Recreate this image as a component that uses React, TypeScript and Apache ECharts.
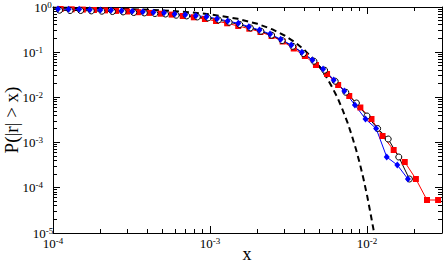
import React, { useEffect, useRef } from "react";
import * as echarts from "echarts";

// Red squares series
const redX = [
  1.118e-4, 1.315e-4, 1.548e-4, 1.822e-4, 2.144e-4, 2.523e-4, 2.969e-4, 3.494e-4, 4.111e-4,
  4.838e-4, 5.694e-4, 6.7e-4, 7.885e-4, 9.279e-4, 1.092e-3, 1.285e-3, 1.512e-3, 1.779e-3,
  2.094e-3, 2.464e-3, 2.9e-3, 3.412e-3, 4.016e-3, 4.726e-3, 5.561e-3, 6.544e-3, 7.701e-3,
  9.063e-3, 1.067e-2, 1.255e-2, 1.477e-2, 1.738e-2, 2.046e-2, 2.407e-2, 2.833e-2,
];
const redY = [
  0.903, 0.889, 0.876, 0.858, 0.841, 0.82, 0.795, 0.767, 0.74, 0.711, 0.679, 0.632, 0.592,
  0.543, 0.49, 0.436, 0.38, 0.331, 0.28, 0.228, 0.1725, 0.1207, 0.0824, 0.0521, 0.0329,
  0.0188, 0.01074, 5.98e-3, 3.33e-3, 1.4e-3, 6.86e-4, 3.72e-4, 1.565e-4, 5.37e-5, 5.37e-5,
];

// Blue diamonds series
const blueX = [
  1.076e-4, 1.257e-4, 1.468e-4, 1.715e-4, 2.003e-4, 2.34e-4, 2.734e-4, 3.194e-4, 3.733e-4,
  4.359e-4, 5.093e-4, 5.951e-4, 6.951e-4, 8.12e-4, 9.487e-4, 1.108e-3, 1.295e-3, 1.513e-3,
  1.767e-3, 2.064e-3, 2.412e-3, 2.818e-3, 3.292e-3, 3.845e-3, 4.492e-3, 5.248e-3, 6.131e-3,
  7.162e-3, 8.367e-3, 9.772e-3, 1.142e-2, 1.334e-2, 1.558e-2, 1.82e-2,
];
const blueY = [
  0.903, 0.889, 0.889, 0.872, 0.858, 0.845, 0.828, 0.803, 0.787, 0.763, 0.744, 0.7, 0.675,
  0.642, 0.61, 0.551, 0.49, 0.436, 0.367, 0.31, 0.253, 0.193, 0.144, 0.0995, 0.0672, 0.0425,
  0.0243, 0.01385, 6.79e-3, 3.33e-3, 2.05e-3, 4.8e-4, 3.19e-4, 1.565e-4,
];

// Black open circles series
const blackX = [
  1.1e-4, 1.285e-4, 1.5e-4, 1.753e-4, 2.047e-4, 2.391e-4, 2.794e-4, 3.264e-4, 3.815e-4,
  4.455e-4, 5.205e-4, 6.082e-4, 7.104e-4, 8.299e-4, 9.696e-4, 1.132e-3, 1.323e-3, 1.546e-3,
  1.806e-3, 2.109e-3, 2.465e-3, 2.88e-3, 3.364e-3, 3.93e-3, 4.591e-3, 5.363e-3, 6.266e-3,
  7.32e-3, 8.551e-3, 9.987e-3, 1.167e-2, 1.363e-2, 1.592e-2, 1.86e-2,
];
const blackY = [
  0.849, 0.836, 0.836, 0.82, 0.807, 0.794, 0.778, 0.755, 0.74, 0.717, 0.699, 0.658, 0.635,
  0.603, 0.573, 0.518, 0.461, 0.41, 0.345, 0.291, 0.238, 0.181, 0.135, 0.0935, 0.0632, 0.04,
  0.0228, 0.013, 7.52e-3, 3.88e-3, 2.05e-3, 1.2e-3, 4.8e-4, 1.565e-4,
];

// Dashed reference curve
const dashX = [
  1e-4, 2e-4, 3e-4, 5e-4, 7e-4, 1e-3, 1.5e-3, 2e-3, 2.5e-3, 3e-3, 3.5e-3, 4e-3, 4.5e-3, 5e-3,
  5.5e-3, 6e-3, 6.5e-3, 7e-3, 7.5e-3, 8e-3, 8.5e-3, 9e-3, 9.5e-3, 1e-2, 1.05e-2, 1.1e-2, 1.13e-2,
];
const dashY = [
  0.968, 0.937, 0.905, 0.842, 0.78, 0.69, 0.55, 0.425, 0.319, 0.231, 0.163, 0.111, 0.0735,
  0.0465, 0.0283, 0.0166, 0.0097, 0.0052, 0.0028, 0.00143, 7.1e-4, 3.4e-4, 1.54e-4, 6.8e-5,
  2.8e-5, 1.17e-5, 7.2e-6,
];

const xRange = [1e-4, 0.03];
const yRange = [1e-5, 1];
const xMajorTicks = [1e-4, 1e-3, 1e-2];
const xMinorTicks = [
  2e-4, 3e-4, 4e-4, 5e-4, 6e-4, 7e-4, 8e-4, 9e-4,
  2e-3, 3e-3, 4e-3, 5e-3, 6e-3, 7e-3, 8e-3, 9e-3,
  2e-2,
];
const yMajorTicks = [1e-5, 1e-4, 1e-3, 1e-2, 1e-1, 1];
const yMinorTicks = [
  2e-5, 3e-5, 4e-5, 5e-5, 6e-5, 7e-5, 8e-5, 9e-5,
  2e-4, 3e-4, 4e-4, 5e-4, 6e-4, 7e-4, 8e-4, 9e-4,
  2e-3, 3e-3, 4e-3, 5e-3, 6e-3, 7e-3, 8e-3, 9e-3,
  2e-2, 3e-2, 4e-2, 5e-2, 6e-2, 7e-2, 8e-2, 9e-2,
  0.2, 0.3, 0.4, 0.5, 0.6, 0.7, 0.8, 0.9,
];
const xTitle = "x";
const yTitle = "P(|r| > x)";

const zip = (xs: number[], ys: number[]) => xs.map((x, i) => [x, ys[i]]);

export default function App() {
  const ref = useRef<HTMLDivElement>(null);
  useEffect(() => {
    const chart = echarts.init(ref.current!, null, { renderer: "svg" });
    const serif = "'Liberation Serif', 'DejaVu Serif', serif";
    const fmt = (v: number) => {
      const e = Math.log10(v);
      const r = Math.round(e);
      if (Math.abs(e - r) > 1e-6) return "";
      return `{b|10}{e|${r}}`;
    };
    const rich = {
      b: { fontSize: 13, fontFamily: serif, color: "#000", lineHeight: 14 },
      e: { fontSize: 9, fontFamily: serif, color: "#000", verticalAlign: "top", lineHeight: 9 },
    };
    const MAJ = 7;
    const MIN = 4;
    const tickStyle = { stroke: "#000", lineWidth: 1 };
    const crisp = (v: number) => Math.round(v - 0.5) + 0.5;

    const xTickData = [
      ...xMajorTicks.map((v) => [v, yRange[0], MAJ]),
      ...xMinorTicks.map((v) => [v, yRange[0], MIN]),
    ];
    const yTickData = [
      ...yMajorTicks.map((v) => [xRange[0], v, MAJ]),
      ...yMinorTicks.map((v) => [xRange[0], v, MIN]),
    ];

    const axisBase = (showLabel: boolean, margin: number) => ({
      type: "log",
      logBase: 10,
      axisLine: { show: true, onZero: false, lineStyle: { color: "#000", width: 1 } },
      axisTick: { show: false },
      minorTick: { show: false },
      splitLine: { show: false },
      minorSplitLine: { show: false },
      axisLabel: {
        show: showLabel,
        formatter: fmt,
        rich,
        margin,
        showMinLabel: true,
        showMaxLabel: true,
        alignMinLabel: "center",
        alignMaxLabel: "center",
      },
    });
    chart.setOption({
      animation: false,
      backgroundColor: "#fff",
      grid: { left: 53, right: 1, top: 7, bottom: 30, containLabel: false, outerBoundsMode: "none" },
      graphic: [
        {
          type: "text",
          x: 247,
          y: 263,
          silent: true,
          style: {
            text: xTitle,
            fontSize: 18,
            fontFamily: serif,
            fill: "#000",
            textAlign: "center",
            textVerticalAlign: "bottom",
          },
        },
        {
          type: "text",
          x: 11,
          y: 120,
          rotation: Math.PI / 2,
          silent: true,
          style: {
            text: yTitle,
            fontSize: 19,
            fontFamily: serif,
            fill: "#000",
            textAlign: "center",
            textVerticalAlign: "middle",
          },
        },
      ],
      xAxis: [
        { ...axisBase(true, 3), position: "bottom", min: xRange[0], max: xRange[1] },
        { ...axisBase(false, 3), position: "top", min: xRange[0], max: xRange[1] },
      ],
      yAxis: [
        { ...axisBase(true, 10), position: "left", min: yRange[0], max: yRange[1] },
        { ...axisBase(false, 10), position: "right", min: yRange[0], max: yRange[1] },
      ],
      series: [
        {
          type: "custom",
          data: xTickData,
          clip: false,
          silent: true,
          renderItem: (params: any, api: any) => {
            const v = api.value(0);
            const len = api.value(2);
            const b = api.coord([v, yRange[0]]);
            const t = api.coord([v, yRange[1]]);
            const x = crisp(b[0]);
            return {
              type: "group",
              children: [
                { type: "line", shape: { x1: x, y1: b[1], x2: x, y2: b[1] - len }, style: tickStyle },
                { type: "line", shape: { x1: x, y1: t[1], x2: x, y2: t[1] + len }, style: tickStyle },
              ],
            };
          },
        },
        {
          type: "custom",
          data: yTickData,
          clip: false,
          silent: true,
          renderItem: (params: any, api: any) => {
            const v = api.value(1);
            const len = api.value(2);
            const l = api.coord([xRange[0], v]);
            const r = api.coord([xRange[1], v]);
            const y = crisp(l[1]);
            return {
              type: "group",
              children: [
                { type: "line", shape: { x1: l[0], y1: y, x2: l[0] + len, y2: y }, style: tickStyle },
                { type: "line", shape: { x1: r[0], y1: y, x2: r[0] - len, y2: y }, style: tickStyle },
              ],
            };
          },
        },
        {
          type: "line",
          data: zip(redX, redY),
          symbol: "rect",
          symbolSize: 6,
          lineStyle: { color: "#ff0000", width: 1 },
          itemStyle: { color: "#ff0000" },
          silent: true,
        },
        {
          type: "line",
          data: zip(blackX, blackY),
          symbol: "circle",
          symbolSize: 6,
          lineStyle: { color: "#000", width: 1 },
          itemStyle: { color: "#fff", borderColor: "#000", borderWidth: 1 },
          silent: true,
        },
        {
          type: "line",
          data: zip(blueX, blueY),
          symbol: "diamond",
          symbolSize: [6, 7],
          lineStyle: { color: "#0000ff", width: 1 },
          itemStyle: { color: "#0000ff" },
          silent: true,
        },
        {
          type: "line",
          data: zip(dashX, dashY),
          symbol: "none",
          clip: true,
          lineStyle: { color: "#000", width: 2, type: [6, 4] },
          silent: true,
        },
      ],
    });
    return () => chart.dispose();
  }, []);
  return (
    <div
      ref={ref}
      style={{ position: "fixed", left: 0, top: 0, width: 443, height: 263 }}
    />
  );
}
